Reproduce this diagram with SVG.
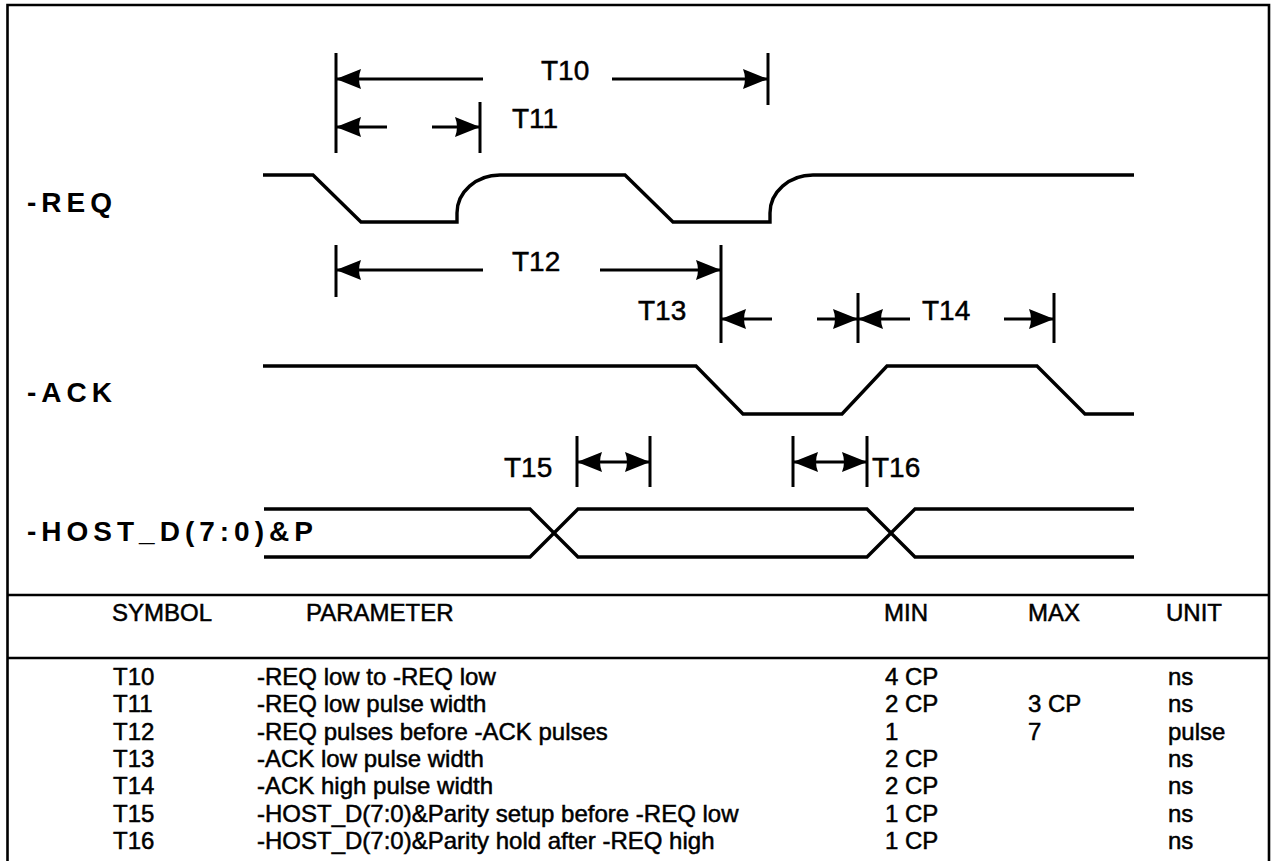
<svg xmlns="http://www.w3.org/2000/svg" width="1275" height="861" viewBox="0 0 1275 861">
<defs>
<style>
.frame{fill:none;stroke:#000;stroke-width:2.6}
.wave{fill:none;stroke:#000;stroke-width:3.4;stroke-linejoin:miter}
.dim{fill:none;stroke:#000;stroke-width:2.8}
.bar{fill:none;stroke:#000;stroke-width:3}
.sig{font-family:"Liberation Sans",Arial,sans-serif;font-weight:bold;font-size:28px;letter-spacing:5px;fill:#000}
.lbl{font-family:"Liberation Sans",Arial,sans-serif;font-size:28px;fill:#000;stroke:#000;stroke-width:0.5}
.tbl{font-family:"Liberation Sans",Arial,sans-serif;font-size:24px;fill:#000;stroke:#000;stroke-width:0.5}
</style>
<marker id="ah" viewBox="0 0 25 22" refX="25" refY="11" markerWidth="25" markerHeight="22" markerUnits="userSpaceOnUse" orient="auto-start-reverse">
<path d="M0,1 Q4,11 0,21 L25,11 Z" fill="#000"/>
</marker>
</defs>
<rect width="1275" height="861" fill="#fff"/>
<path class="frame" d="M7.5,880 V5 H1269 V880"/>
<line class="frame" x1="7.5" y1="595" x2="1269" y2="595"/>
<line class="frame" x1="7.5" y1="658" x2="1269" y2="658"/>

<g id="req">
<text class="sig" x="27" y="212">-REQ</text>
<path class="wave" d="M263,175 H313 L361,222 H457 V213 A43,38 0 0 1 500,175 H625 L673,222 H770 V213 A43,38 0 0 1 813,175 H1134"/>
</g>
<g id="ack">
<text class="sig" x="27" y="402">-ACK</text>
<path class="wave" d="M263,366 H696 L743,414 H842 L887,366 H1037 L1085,414 H1134"/>
</g>
<g id="host">
<text class="sig" x="27" y="541">-HOST_D(7:0)&amp;P</text>
<path class="wave" d="M264,509 H530 L578,557 H867 L915,509 H1134"/>
<path class="wave" d="M264,557 H530 L578,509 H867 L915,557 H1134"/>
</g>

<g id="connectors">
<g id="t10">
<line class="bar" x1="336" y1="53" x2="336" y2="153"/>
<line class="bar" x1="768" y1="53" x2="768" y2="105"/>
<path class="dim" d="M483,79 H336" marker-end="url(#ah)"/>
<path class="dim" d="M612,79 H768" marker-end="url(#ah)"/>
<text class="lbl" x="541" y="80">T10</text>
</g>
<g id="t11">
<line class="bar" x1="480" y1="102" x2="480" y2="153"/>
<path class="dim" d="M387,127 H336" marker-end="url(#ah)"/>
<path class="dim" d="M432,127 H480" marker-end="url(#ah)"/>
<text class="lbl" x="512" y="128">T11</text>
</g>
<g id="t12">
<line class="bar" x1="336" y1="245" x2="336" y2="297"/>
<line class="bar" x1="721" y1="245" x2="721" y2="343"/>
<path class="dim" d="M483,270 H336" marker-end="url(#ah)"/>
<path class="dim" d="M600,270 H721" marker-end="url(#ah)"/>
<text class="lbl" x="512" y="271">T12</text>
</g>
<g id="t13">
<line class="bar" x1="858" y1="293" x2="858" y2="343"/>
<path class="dim" d="M772,319 H721" marker-end="url(#ah)"/>
<path class="dim" d="M817,319 H858" marker-end="url(#ah)"/>
<text class="lbl" x="638" y="320">T13</text>
</g>
<g id="t14">
<line class="bar" x1="1054" y1="293" x2="1054" y2="343"/>
<path class="dim" d="M910,319 H858" marker-end="url(#ah)"/>
<path class="dim" d="M1004,319 H1054" marker-end="url(#ah)"/>
<text class="lbl" x="922" y="320">T14</text>
</g>
<g id="t15">
<line class="bar" x1="577" y1="436" x2="577" y2="487"/>
<line class="bar" x1="650" y1="436" x2="650" y2="487"/>
<path class="dim" d="M577,462 H650" marker-start="url(#ah)" marker-end="url(#ah)"/>
<text class="lbl" x="504" y="477">T15</text>
</g>
<g id="t16">
<line class="bar" x1="793" y1="436" x2="793" y2="487"/>
<line class="bar" x1="867" y1="436" x2="867" y2="487"/>
<path class="dim" d="M793,462 H867" marker-start="url(#ah)" marker-end="url(#ah)"/>
<text class="lbl" x="872" y="477">T16</text>
</g>
</g>

<g id="table">
<text class="tbl" x="112" y="621">SYMBOL</text>
<text class="tbl" x="306" y="621">PARAMETER</text>
<text class="tbl" x="884" y="621">MIN</text>
<text class="tbl" x="1028" y="621">MAX</text>
<text class="tbl" x="1166" y="621">UNIT</text>

<text class="tbl" x="113" y="685">T10</text>
<text class="tbl" x="257" y="685">-REQ low to -REQ low</text>
<text class="tbl" x="885" y="685">4 CP</text>
<text class="tbl" x="1168" y="685">ns</text>

<text class="tbl" x="113" y="712">T11</text>
<text class="tbl" x="257" y="712">-REQ low pulse width</text>
<text class="tbl" x="885" y="712">2 CP</text>
<text class="tbl" x="1028" y="712">3 CP</text>
<text class="tbl" x="1168" y="712">ns</text>

<text class="tbl" x="113" y="740">T12</text>
<text class="tbl" x="257" y="740">-REQ pulses before -ACK pulses</text>
<text class="tbl" x="885" y="740">1</text>
<text class="tbl" x="1028" y="740">7</text>
<text class="tbl" x="1168" y="740">pulse</text>

<text class="tbl" x="113" y="767">T13</text>
<text class="tbl" x="257" y="767">-ACK low pulse width</text>
<text class="tbl" x="885" y="767">2 CP</text>
<text class="tbl" x="1168" y="767">ns</text>

<text class="tbl" x="113" y="794">T14</text>
<text class="tbl" x="257" y="794">-ACK high pulse width</text>
<text class="tbl" x="885" y="794">2 CP</text>
<text class="tbl" x="1168" y="794">ns</text>

<text class="tbl" x="113" y="822">T15</text>
<text class="tbl" x="257" y="822">-HOST_D(7:0)&amp;Parity setup before -REQ low</text>
<text class="tbl" x="885" y="822">1 CP</text>
<text class="tbl" x="1168" y="822">ns</text>

<text class="tbl" x="113" y="849">T16</text>
<text class="tbl" x="257" y="849">-HOST_D(7:0)&amp;Parity hold after -REQ high</text>
<text class="tbl" x="885" y="849">1 CP</text>
<text class="tbl" x="1168" y="849">ns</text>
</g>
</svg>
